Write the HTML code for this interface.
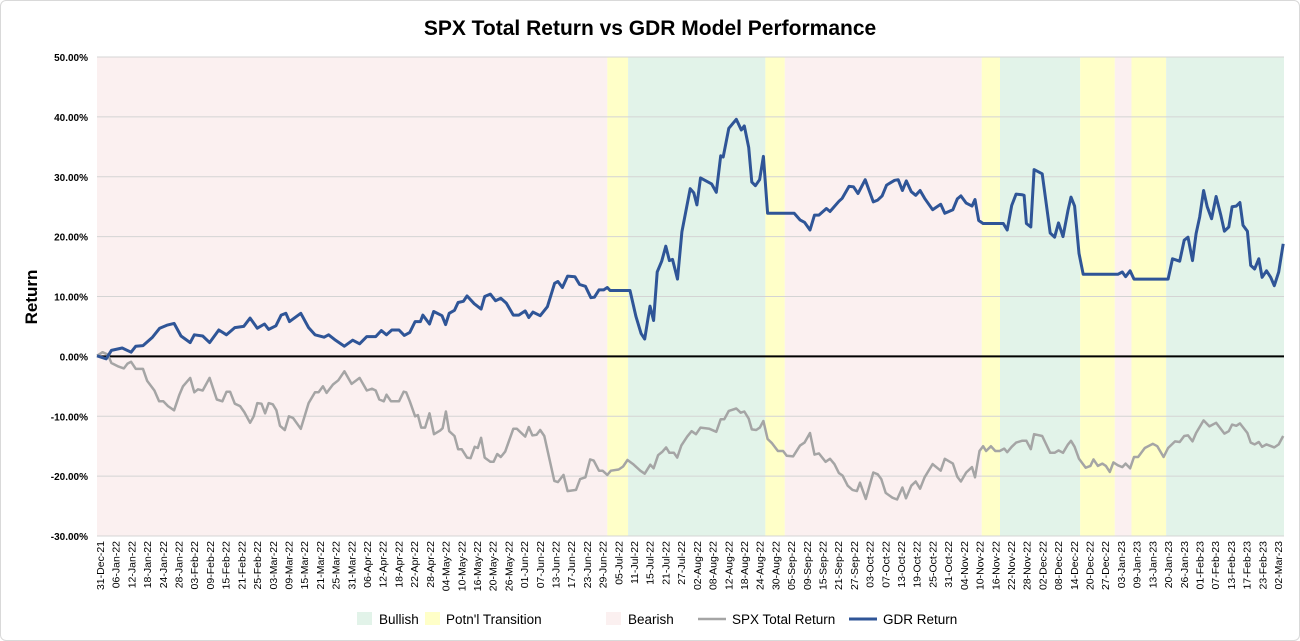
<!DOCTYPE html>
<html><head><meta charset="utf-8"><style>
html,body{margin:0;padding:0;background:#fff}
#wrap{position:relative;width:1298px;height:639px;border:1px solid #d9d9d9;border-radius:6px;overflow:hidden;font-family:"Liberation Sans",sans-serif}
svg text{font-family:"Liberation Sans",sans-serif}
</style></head><body>
<div id="wrap">
<svg id="chart" width="1298" height="639"></svg>
</div>
<script>
const bandStarts=[0,184,191.5,241,248,319,325.6,354.5,367,373,385.5];
const bandEnds=[184,191.5,241,248,319,325.6,354.5,367,373,385.5,428];
const bandTypes=["bear","trans","bull","trans","bear","trans","bull","trans","bear","trans","bull"];
const yTicks=[50,40,30,20,10,0,-10,-20,-30];
const xTickLabels=["31-Dec-21","06-Jan-22","12-Jan-22","18-Jan-22","24-Jan-22","28-Jan-22","03-Feb-22","09-Feb-22","15-Feb-22","21-Feb-22","25-Feb-22","03-Mar-22","09-Mar-22","15-Mar-22","21-Mar-22","25-Mar-22","31-Mar-22","06-Apr-22","12-Apr-22","18-Apr-22","22-Apr-22","28-Apr-22","04-May-22","10-May-22","16-May-22","20-May-22","26-May-22","01-Jun-22","07-Jun-22","13-Jun-22","17-Jun-22","23-Jun-22","29-Jun-22","05-Jul-22","11-Jul-22","15-Jul-22","21-Jul-22","27-Jul-22","02-Aug-22","08-Aug-22","12-Aug-22","18-Aug-22","24-Aug-22","30-Aug-22","05-Sep-22","09-Sep-22","15-Sep-22","21-Sep-22","27-Sep-22","03-Oct-22","07-Oct-22","13-Oct-22","19-Oct-22","25-Oct-22","31-Oct-22","04-Nov-22","10-Nov-22","16-Nov-22","22-Nov-22","28-Nov-22","02-Dec-22","08-Dec-22","14-Dec-22","20-Dec-22","27-Dec-22","03-Jan-23","09-Jan-23","13-Jan-23","20-Jan-23","26-Jan-23","01-Feb-23","07-Feb-23","13-Feb-23","17-Feb-23","23-Feb-23","02-Mar-23"];
const gdrDays=[0,3.3,5.2,9.1,12.3,14,16.6,20,22.6,25.2,27.8,30.3,33.6,35.1,38.1,40.6,43.9,46.7,49.7,52.9,55.2,57.8,60.4,61.9,64.5,66.4,68.1,69.4,73.5,76.3,78.6,81.9,83.5,85.7,89.2,92.2,94.7,97.3,100.5,102.5,104.4,106.3,108.9,110.8,112.8,114.7,116.6,117.5,119.9,121.4,124.4,125.7,127,128.9,130.2,132.1,133.4,136,138.5,139.8,141.8,143.7,145.6,147.6,150.1,152.1,154.4,155.7,157.2,159.8,162.4,165,166.2,167.8,169.7,172.3,174,176.1,178.1,179.4,181,182.7,184,185,192.2,194.3,196.2,197.5,199.4,200.7,202,203.6,205.1,206.4,207.5,209.3,210.9,213.9,215.2,216.3,217.6,219.2,221.6,223.3,224.9,225.8,227.8,230.5,232.3,233.4,235,236.1,237.4,238.9,240.3,241.8,251.4,253.5,255.1,257.1,258.7,260.3,263,264.3,267.5,268.7,271.2,272.8,274.4,277,279.9,281.5,283.1,284.7,287.6,288.9,290.4,291.8,293.6,295.2,296.8,298.4,301.3,304.2,305.7,308.6,310.2,311.5,313.4,315.5,316.6,317.9,319.5,326.8,328.2,329.8,331.4,333.5,334.3,335.1,336.7,337.9,340.8,343.7,345.3,346.7,348.3,350.1,351.2,352.5,354.1,355.6,368.1,369.7,370.9,372.5,373.9,386.2,387.8,390.4,392,393.4,395,396.3,397.6,399,400.3,401.9,403.5,405.2,406.5,408.1,409.3,410.8,412.1,413.2,414.8,416,417.4,418.9,420.1,421.7,423.2,424.5,426.1,427.7];
const gdrVals=[0.1,-0.4,1.0,1.4,0.7,1.7,1.8,3.2,4.7,5.2,5.5,3.4,2.3,3.6,3.4,2.3,4.4,3.6,4.8,5.0,6.4,4.7,5.4,4.5,5.1,6.9,7.2,5.8,7.2,4.8,3.6,3.2,3.6,2.8,1.7,2.7,2.1,3.3,3.3,4.3,3.6,4.4,4.4,3.5,4.0,5.8,5.8,6.9,5.4,7.5,6.8,5.3,7.2,7.7,9.0,9.2,10.1,8.8,7.9,10.0,10.4,9.3,9.7,8.9,6.9,6.9,7.6,6.5,7.4,6.8,8.3,12.2,12.5,11.5,13.4,13.3,12.0,11.7,9.8,9.9,11.1,11.1,11.5,11.0,11.0,6.7,3.8,2.9,8.4,6.0,14.1,15.9,18.4,16.0,16.2,12.9,20.8,28.0,27.3,25.3,29.8,29.4,28.8,27.4,33.5,33.3,38.1,39.6,37.8,38.5,34.9,29.1,28.5,29.5,33.4,23.9,23.9,22.8,22.4,21.1,23.6,23.6,24.7,24.2,25.9,26.4,28.4,28.3,27.2,29.5,25.8,26.1,26.8,28.6,29.4,29.5,27.7,29.3,27.5,26.9,27.7,26.4,24.5,25.4,23.9,24.5,26.3,26.8,25.6,25.1,26.2,22.7,22.2,22.2,21.1,25.2,27.1,27.0,26.9,22.2,21.6,31.2,30.5,20.6,19.9,22.3,20.0,24.4,26.6,25.1,17.2,13.7,13.7,14.1,13.3,14.3,12.9,12.9,16.3,15.9,19.4,19.9,16.0,20.5,23.3,27.7,25.0,23.0,26.7,23.6,20.9,21.6,25.0,25.1,25.7,21.9,20.9,15.2,14.6,16.3,13.2,14.3,13.2,11.8,14.1,18.8];
const spxDays=[0,2,3.9,5.2,7.8,9.7,11,12.3,14,16.6,18.1,20.7,22.4,23.9,25.6,27.8,29.7,31,33.6,35.1,36.4,38.1,40.6,43.2,45.2,46.7,48,49.7,51.6,53.1,55.2,56.5,57.8,59.3,60.6,61.9,63.4,64.7,66,67.7,69.2,70.7,73.5,76.3,78.6,79.9,81.5,82.8,85.1,87,89.2,91.8,94.7,97.3,99.2,100.5,101.8,103.4,104.4,106,108.9,110.6,111.5,112.8,114.7,115.7,116.9,118.3,119.9,121.5,123.7,124.6,125.8,127,128.9,130.2,131.5,133.4,134.7,136.2,137.3,138.5,139.8,141.8,143,144.3,145.6,147.2,150.1,151.4,154.4,155.7,157,158.5,159.8,161.3,164.9,166.2,168.2,169.7,172.7,174.2,176.1,177.8,179.1,181,182.3,184,185.3,188.1,189.7,191.3,193.3,195.9,197.5,199.5,200.7,202.3,203.9,205.2,206.4,208,209.2,210.7,212.8,214.4,216,217.6,220.8,223.3,224.9,226.2,227.8,230.5,232.1,233.4,235,236.1,237.7,239,240.3,241.8,243.4,245.5,247.4,248.7,251,253.5,255.1,257.1,258.7,260.3,262.7,264.3,265.9,267.5,268.8,270.7,272.4,274,275.1,277.2,279.9,281.5,282.8,284.4,286.8,288.5,290.4,291.7,293.6,295.2,296.8,298.4,301.3,304.2,305.7,308.6,310.2,311.5,313.4,315.5,316.6,318.2,319.5,320.6,322.3,323.9,325.5,327.1,328.2,329.8,331.4,333.5,335.1,336.7,337.9,340.8,343.7,345.3,346.7,348.3,350.1,351.2,352.5,354.1,356.5,358.2,359.3,360.9,362.5,363.8,365.2,366.5,368.1,369.7,370.9,372.5,373.9,375.4,377.8,380.7,382.3,384.6,386.2,388.7,390.4,392,393.4,395,396.3,399,401.1,403.5,406.5,408.1,409.3,410.8,412.1,414.8,416,417.4,418.9,420.1,421.7,424.5,426.1,427.7];
const spxVals=[0.1,0.7,0.3,-1.1,-1.7,-2.0,-1.2,-0.9,-2.1,-2.1,-4.1,-5.7,-7.5,-7.5,-8.3,-9.0,-6.4,-5.0,-3.6,-6.0,-5.5,-5.7,-3.6,-7.2,-7.5,-5.9,-5.9,-7.9,-8.3,-9.3,-11.1,-10.0,-7.8,-7.9,-9.5,-7.8,-8.0,-9.0,-11.6,-12.3,-10.0,-10.3,-12.1,-7.8,-6.0,-6.0,-5.0,-6.1,-4.7,-4.0,-2.5,-4.6,-3.6,-5.7,-5.4,-5.7,-7.2,-7.5,-6.4,-7.5,-7.5,-5.9,-6.0,-7.5,-10.0,-9.8,-11.9,-11.9,-9.5,-13.0,-12.4,-12.0,-9.2,-12.5,-13.3,-15.5,-15.5,-16.9,-17.0,-15.1,-15.3,-13.6,-16.9,-17.6,-17.6,-16.3,-16.8,-15.9,-12.1,-12.1,-13.4,-11.8,-13.2,-13.1,-12.3,-13.3,-20.8,-21.0,-19.8,-22.5,-22.3,-20.5,-20.2,-17.2,-17.4,-19.1,-19.1,-19.8,-19.1,-18.9,-18.4,-17.3,-18.0,-19.1,-19.6,-18.1,-18.7,-16.5,-15.9,-15.2,-16.1,-16.1,-16.9,-14.9,-13.4,-12.5,-13.0,-11.9,-12.1,-12.6,-10.5,-10.5,-9.1,-8.7,-9.4,-9.2,-10.4,-12.2,-12.3,-11.9,-10.8,-13.8,-14.5,-15.8,-15.8,-16.6,-16.7,-14.9,-14.4,-12.8,-16.4,-16.2,-17.6,-17.1,-18.0,-19.5,-19.9,-21.6,-22.3,-22.5,-21.1,-23.8,-19.4,-19.7,-20.5,-22.8,-23.6,-23.9,-21.9,-23.7,-21.6,-20.9,-22.1,-20.2,-18.0,-19.1,-17.1,-17.9,-20.1,-20.9,-19.4,-18.5,-20.2,-15.8,-15.0,-15.8,-15.0,-15.8,-15.8,-15.4,-16.0,-15.1,-14.4,-14.1,-14.1,-15.5,-13.0,-13.3,-16.1,-16.1,-15.7,-16.1,-14.7,-14.1,-15.1,-17.1,-18.6,-18.3,-17.2,-18.3,-17.9,-18.3,-19.3,-17.7,-18.2,-18.5,-17.9,-18.7,-16.8,-16.8,-15.3,-14.6,-15.0,-16.8,-15.3,-14.2,-14.3,-13.3,-13.2,-14.2,-12.8,-10.7,-11.7,-11.1,-12.9,-12.5,-11.4,-11.6,-11.2,-12.8,-14.4,-14.7,-14.3,-15.1,-14.7,-15.2,-14.7,-13.3];

const NS="http://www.w3.org/2000/svg";
const svg=document.getElementById('chart');
const L=96,R=1283,T=56,B=535,DMAX=428,YMAX=50,YMIN=-30;
function xs(d){return L+(d/DMAX)*(R-L);}
function ys(v){return T+(YMAX-v)/(YMAX-YMIN)*(B-T);}
function xTick(i){return 99+i*(1277-99)/(xTickLabels.length-1);}
function mk(tag,attrs){const e=document.createElementNS(NS,tag);for(const k in attrs)e.setAttribute(k,attrs[k]);svg.appendChild(e);return e;}
const bandColor={bull:"#e2f3e9",trans:"#ffffc8",bear:"#fbf0f0"};
let t=mk('text',{x:649,y:34,'text-anchor':'middle','font-size':21,'font-weight':'bold',fill:'#000'});
t.textContent="SPX Total Return vs GDR Model Performance";


for(let i=0;i<bandStarts.length;i++){
  const r=mk('rect',{x:xs(bandStarts[i]),y:T,width:xs(bandEnds[i])-xs(bandStarts[i]),height:B-T,fill:bandColor[bandTypes[i]]});
  
  
}
yTicks.forEach(v=>{
  if(v!==0){const g=mk('line',{x1:L,x2:R,y1:ys(v),y2:ys(v),stroke:'#d4d4d4','stroke-width':1});
  
  }
  const lb=mk('text',{x:87,y:ys(v)+4,'text-anchor':'end','font-size':10,'font-weight':'bold',fill:'#000'});
  lb.textContent=v.toFixed(2)+'%';
  
  
});
const yt=mk('text',{x:36,y:296,'text-anchor':'middle','font-size':17,'font-weight':'bold',fill:'#000',transform:'rotate(-90 36 296)'});
yt.textContent='Return';


xTickLabels.forEach((s,i)=>{
  const x=xTick(i)+4;
  const lb=mk('text',{x:x,y:540,'text-anchor':'end','font-size':10.5,fill:'#000',transform:`rotate(-90 ${x} 540)`});
  lb.textContent=s;
  
  
});
const z=mk('line',{x1:L,x2:R,y1:ys(0),y2:ys(0),stroke:'#000','stroke-width':2});


function pts(ds,vs){return ds.map((d,i)=>xs(d).toFixed(1)+','+ys(vs[i]).toFixed(1)).join(' ');}
const sp=mk('polyline',{points:pts(spxDays,spxVals),fill:'none',stroke:'#a5a5a5','stroke-width':2.5,'stroke-linejoin':'round'});


const gp=mk('polyline',{points:pts(gdrDays,gdrVals),fill:'none',stroke:'#2f5597','stroke-width':3,'stroke-linejoin':'round'});


function legRect(x,c,label,tx,name){
  const r=mk('rect',{x:x,y:611,width:15,height:13,fill:c});
  
  
  const tt=mk('text',{x:tx,y:623,'font-size':13.5,fill:'#000'});tt.textContent=label;
  
  
}
function legLine(x,c,w,label,tx,name){
  const l=mk('line',{x1:x,x2:x+28,y1:618,y2:618,stroke:c,'stroke-width':w});
  
  
  const tt=mk('text',{x:tx,y:623,'font-size':13.5,fill:'#000'});tt.textContent=label;
  
  
}
legRect(356,bandColor.bull,'Bullish',378,'legend-bullish');
legRect(424,bandColor.trans,"Potn'l Transition",445,'legend-transition');
legRect(605,bandColor.bear,'Bearish',627,'legend-bearish');
legLine(697,'#a5a5a5',2.5,'SPX Total Return',731,'legend-spx');
legLine(848,'#2f5597',3,'GDR Return',882,'legend-gdr');
</script>
</body></html>
